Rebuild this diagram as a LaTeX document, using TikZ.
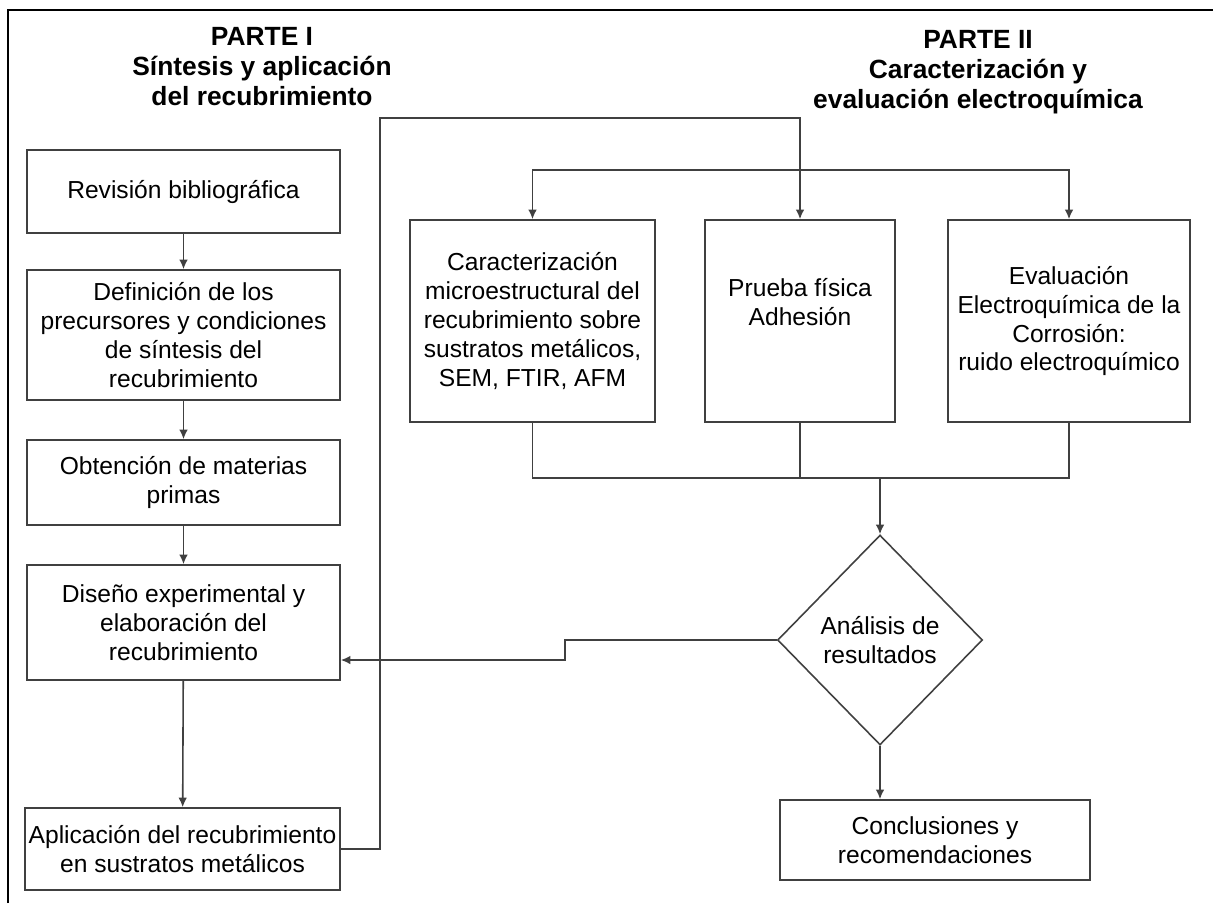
\documentclass[tikz,border=0pt]{standalone}
\usepackage{fontspec}
\setmainfont{Liberation Sans}
\usetikzlibrary{arrows.meta, shapes.geometric}

\begin{document}
\begin{tikzpicture}[x=0.02cm, y=-0.02cm,
  box/.style={draw=black!75, line width=0.9pt, align=center, inner sep=2pt, font=\fontsize{14}{16.5}\selectfont},
  decision/.style={diamond, aspect=1, draw=black!75, line width=0.9pt, align=center, inner sep=0pt, minimum width=4.1cm, minimum height=4.2cm, font=\fontsize{14}{16.5}\selectfont},
  conn/.style={draw=black!75, line width=0.9pt},
  arr/.style={conn, -{Latex[length=1.9mm, width=1.7mm]}},
  parttitle/.style={align=center, inner sep=0pt, anchor=north, font=\bfseries\fontsize{15}{17}\selectfont}]
\useasboundingbox (0,0) rectangle (1213,903);
\draw[black, line width=1.4pt] (8,903) -- (8,10) -- (1213,10);

% titles
\node[parttitle] (t1) at (262,27) {PARTE I\\Síntesis y aplicación\\del recubrimiento};
\node[parttitle] (t2) at (978,30) {PARTE II\\Caracterización y\\evaluación electroquímica};

% parte I
\node[box, minimum width=6.26cm, minimum height=1.66cm] (R1) at (183.5,191.5) {Revisión bibliográfica};
\node[box, minimum width=6.26cm, minimum height=2.6cm] (R2) at (183.5,335) {Definición de los\\precursores y condiciones\\de síntesis del\\recubrimiento};
\node[box, minimum width=6.26cm, minimum height=1.7cm] (R3) at (183.5,482.5) {Obtención de materias\\primas};
\node[box, minimum width=6.26cm, minimum height=2.3cm] (R4) at (183.5,622.5) {Diseño experimental y\\elaboración del\\recubrimiento};
\node[box, minimum width=6.3cm, minimum height=1.64cm] (R5) at (182.5,849) {Aplicación del recubrimiento\\en sustratos metálicos};
\foreach \a/\b in {R1/R2,R2/R3,R3/R4,R4/R5}
  \draw[arr] (\a) -- (\b);

% parte II
\node[box, minimum width=4.9cm, minimum height=4.04cm] (C) at (532.5,321) {Caracterización\\microestructural del\\recubrimiento sobre\\sustratos metálicos,\\SEM, FTIR, AFM};
\node[box, minimum width=3.8cm, minimum height=4.04cm] (P) at (800,321) {Prueba física\\Adhesión\\\strut};
\node[box, minimum width=4.84cm, minimum height=4.04cm] (E) at (1069,321) {Evaluación\\Electroquímica de la\\Corrosión:\\ruido electroquímico};
\node[decision] (D) at (880,640) {Análisis de\\resultados};
\node[box, minimum width=6.2cm, minimum height=1.6cm] (K) at (935,840) {Conclusiones y\\recomendaciones};

\coordinate (loop) at (380,118);
\coordinate (split) at (800,170);
\coordinate (join) at (880,478);
\coordinate (fb) at (565,660);

\draw[arr] (R5.east) -| (loop) -| (P.north);
\draw[arr] (split) -| (C.north);
\draw[arr] (split) -| (E.north);
\draw[conn] (C.south) |- (join) -| (E.south);
\draw[conn] (P.south) -- (P.south |- join);
\draw[arr] (join) -- (D.north);
\draw[arr] (D.west) -| (fb) -- (R4.east |- fb);
\draw[arr] (D.south) -- (D.south |- K.north);
\end{tikzpicture}
\end{document}
